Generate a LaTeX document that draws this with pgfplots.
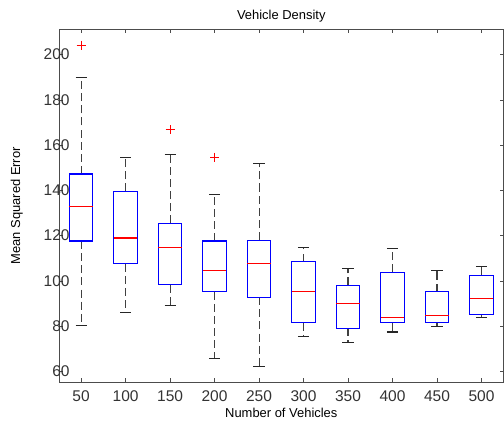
\documentclass[border=0pt]{standalone}
\usepackage{fontspec}
\setmainfont{Liberation Sans}
\usepackage{pgfplots}
\pgfplotsset{compat=1.18}
\usepgfplotslibrary{statistics}

\pgfplotsset{
  mbox/.style={
    draw=blue,
    boxplot/box extend=0.53,
    boxplot/whisker extend=0.25,
    boxplot/every box/.style={draw=blue, line width=0.85pt},
    boxplot/every median/.style={draw=red, line width=0.85pt},
    boxplot/draw/lower whisker/.code={
      \draw[draw=black!75, line width=0.8pt, dash pattern=on 6pt off 3pt]
        (boxplot cs:\pgfplotsboxplotvalue{lower quartile}) --
        (boxplot cs:\pgfplotsboxplotvalue{lower whisker});
      \draw[draw=black!85, line width=0.8pt]
        (boxplot whisker cs:\pgfplotsboxplotvalue{lower whisker},0) --
        (boxplot whisker cs:\pgfplotsboxplotvalue{lower whisker},1);
    },
    boxplot/draw/upper whisker/.code={
      \draw[draw=black!75, line width=0.8pt, dash pattern=on 6pt off 3pt]
        (boxplot cs:\pgfplotsboxplotvalue{upper quartile}) --
        (boxplot cs:\pgfplotsboxplotvalue{upper whisker});
      \draw[draw=black!85, line width=0.8pt]
        (boxplot whisker cs:\pgfplotsboxplotvalue{upper whisker},0) --
        (boxplot whisker cs:\pgfplotsboxplotvalue{upper whisker},1);
    },
    mark=+, mark size=3.3pt, mark options={draw=red, solid, line width=0.8pt},
  },
}

\begin{document}
\begin{tikzpicture}
\begin{axis}[
    scale only axis,
    width=330pt, height=262pt,
    boxplot/draw direction=y,
    xmin=0.5, xmax=10.5,
    ymin=55.1, ymax=211.2,
    xtick={1,2,3,4,5,6,7,8,9,10},
    xticklabels={50,100,150,200,250,300,350,400,450,500},
    ytick={60,80,100,120,140,160,180,200},
    /pgf/number format/assume math mode=true,
    tick label style={font=\fontsize{11.5}{13}\selectfont, text=black!80},
    xticklabel style={yshift=-2.5pt},
    yticklabel style={xshift=11.5pt},
    axis line style={draw=black!70},
    major tick style={draw=black!70},
    major tick length=3pt,
    title={Vehicle Density},
    xlabel={Number of Vehicles},
    ylabel={Mean Squared Error},
    title style={font=\fontsize{9.6}{11}\selectfont, at={(axis description cs:0.5,1)},
      anchor=center, yshift=3.7pt, inner ysep=7.5pt},
    xlabel style={font=\fontsize{9.6}{11}\selectfont, at={(axis description cs:0.5,0)},
      anchor=center, yshift=-22.5pt, inner ysep=5.3pt},
    ylabel style={font=\fontsize{9.6}{11}\selectfont, at={(axis description cs:-0.0945,0.5)},
      anchor=center, inner ysep=8pt},
]
\addplot[mbox, boxplot prepared={draw position=1, lower whisker=80.1, lower quartile=117.6, median=132.8, upper quartile=147.2, upper whisker=189.7}]
  table[row sep=\\, y index=0] {data\\ 204.2\\};
\addplot[mbox, boxplot prepared={draw position=2, lower whisker=86.1, lower quartile=107.6, median=118.9, upper quartile=139.5, upper whisker=154.7}]
  coordinates {};
\addplot[mbox, boxplot prepared={draw position=3, lower whisker=89.2, lower quartile=98.3, median=114.9, upper quartile=125.3, upper whisker=155.9}]
  table[row sep=\\, y index=0] {data\\ 166.9\\};
\addplot[mbox, boxplot prepared={draw position=4, lower whisker=65.7, lower quartile=95.2, median=104.7, upper quartile=117.6, upper whisker=138.2}]
  table[row sep=\\, y index=0] {data\\ 154.7\\};
\addplot[mbox, boxplot prepared={draw position=5, lower whisker=62.2, lower quartile=92.8, median=107.6, upper quartile=118.0, upper whisker=151.7}]
  coordinates {};
\addplot[mbox, boxplot prepared={draw position=6, lower whisker=75.5, lower quartile=81.5, median=95.2, upper quartile=108.5, upper whisker=114.7}]
  coordinates {};
\addplot[mbox, boxplot prepared={draw position=7, lower whisker=72.8, lower quartile=79.1, median=90.1, upper quartile=97.9, upper whisker=105.6}]
  coordinates {};
\addplot[mbox, boxplot prepared={draw position=8, lower whisker=77.4, lower quartile=81.5, median=83.7, upper quartile=103.8, upper whisker=114.3}]
  coordinates {};
\addplot[mbox, boxplot prepared={draw position=9, lower whisker=79.7, lower quartile=81.5, median=84.6, upper quartile=95.2, upper whisker=104.7}]
  coordinates {};
\addplot[mbox, boxplot prepared={draw position=10, lower whisker=83.7, lower quartile=85.1, median=92.1, upper quartile=102.5, upper whisker=106.5}]
  coordinates {};
\end{axis}
\end{tikzpicture}
\end{document}
